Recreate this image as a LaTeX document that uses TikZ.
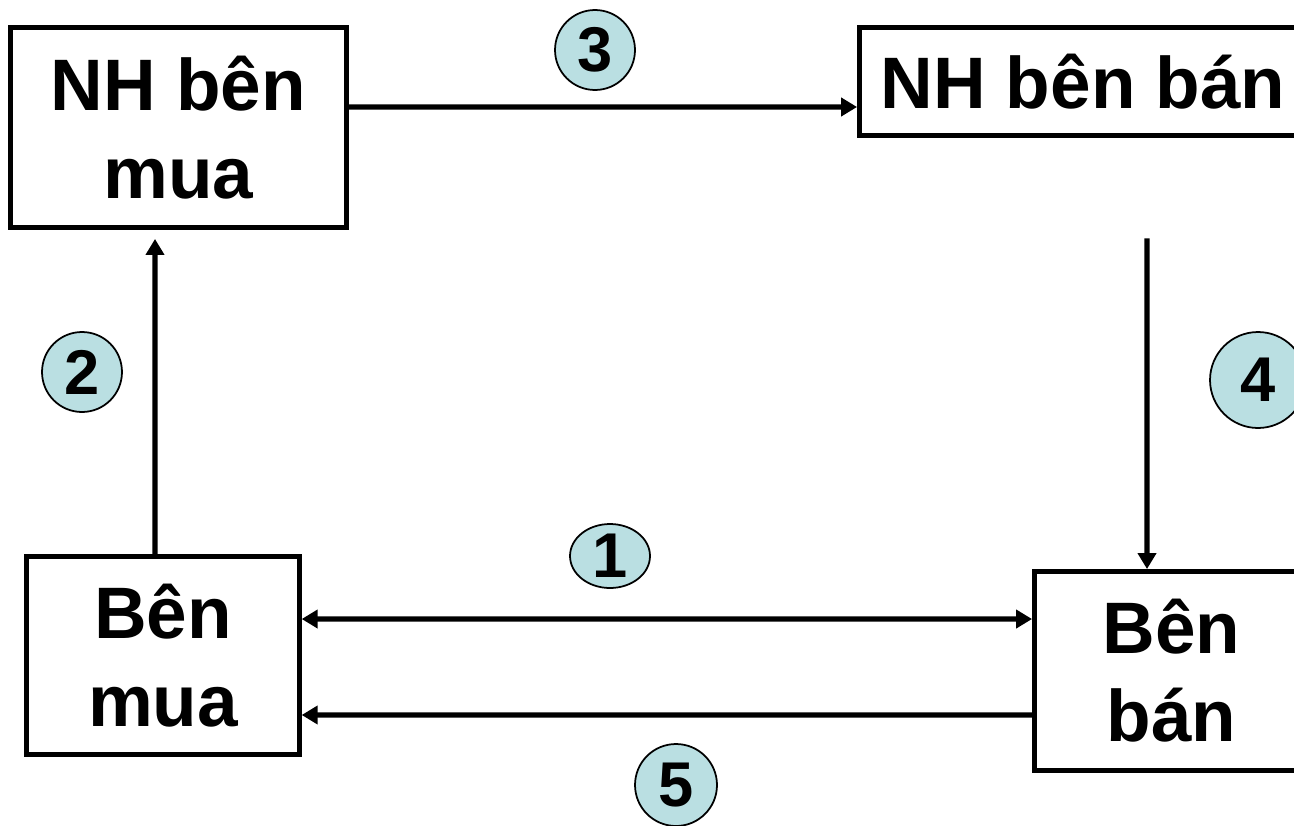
\documentclass[tikz,border=0pt]{standalone}
\usepackage{fontspec}
\setmainfont{Liberation Sans}
\usepackage{xcolor}
\usetikzlibrary{shapes.geometric, positioning, arrows.meta}
\definecolor{stepfill}{RGB}{186,223,226}

\begin{document}
\begin{tikzpicture}[
    x=0.02cm, y=-0.02cm,
    party/.style={rectangle, draw, line width=2.8pt, align=center, inner sep=0pt,
                  font=\fontsize{41.5}{50}\selectfont\bfseries},
    num/.style={circle, draw, line width=1pt, fill=stepfill, inner sep=0pt,
                minimum size=1.6cm, font=\fontsize{36}{36}\selectfont\bfseries},
    arrow/.style={-{Triangle[length=0.32cm, width=0.36cm]}, line width=3pt},
    twoway/.style={{Triangle[length=0.32cm, width=0.36cm]}-{Triangle[length=0.32cm, width=0.36cm]}, line width=3pt}
]
    \useasboundingbox (0,0) rectangle (1294,825);

    % Parties and banks
    \node[party, minimum width=6.72cm, minimum height=4cm] (nhmua) at (178.5,127.5) {NH bên\\mua};
    \node[party, minimum width=8.94cm, minimum height=2.16cm] (nhban) at (1083,81.5) {NH bên bán};
    \node[party, minimum width=5.45cm, minimum height=3.96cm] (benmua) at (163,655.5) {Bên\\mua};
    \node[party, minimum width=5.48cm, minimum height=3.98cm] (benban) at (1171.5,671) {Bên\\bán};

    % Step numbers
    \node[num, ellipse, minimum width=1.6cm, minimum height=1.28cm] (s1) at (610,556) {1};
    \node[num] (s2) at (82,372) {2};
    \node[num] (s3) at (595,50) {3};
    \node[num, minimum size=1.92cm] (s4) at (1258,380) {4};
    \node[num, minimum size=1.64cm] (s5) at (676,785) {5};

    % Flows
    \draw[twoway] ([yshift=0.73cm]benmua.east) -- ([yshift=1.04cm]benban.west);
    \draw[arrow] ([xshift=-0.16cm]benmua.north) -- ([shift={(-0.47cm,-0.18cm)}]nhmua.south);
    \draw[arrow] ([yshift=0.41cm]nhmua.east) -- ([yshift=-0.51cm]nhban.west);
    \draw[arrow] ([shift={(1.28cm,-2.01cm)}]nhban.south) -- ([xshift=-0.49cm]benban.north);
    \draw[arrow] ([yshift=-0.88cm]benban.west) -- ([yshift=-1.19cm]benmua.east);
\end{tikzpicture}
\end{document}
